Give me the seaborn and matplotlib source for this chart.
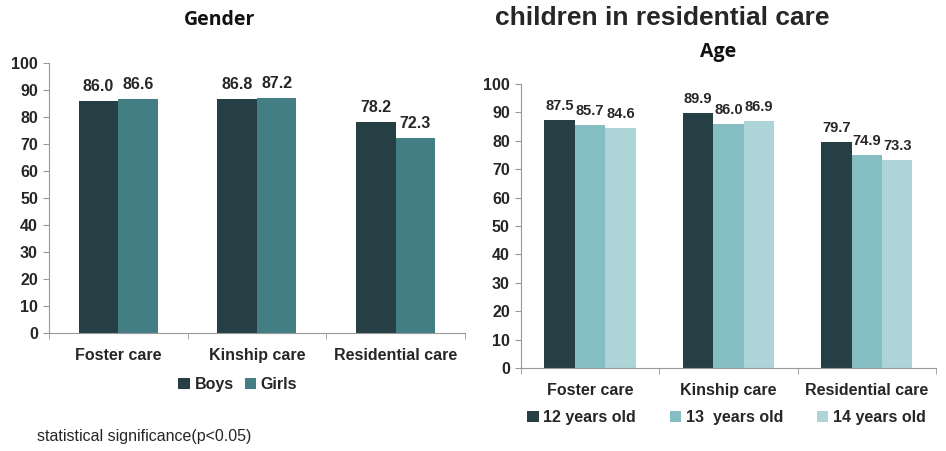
import matplotlib.pyplot as plt
import seaborn as sns
import pandas as pd

care = ['Foster care', 'Kinship care', 'Residential care']
gender_groups = ['Boys', 'Girls']
boys = [86.0, 86.8, 78.2]
girls = [86.6, 87.2, 72.3]
age_groups = ['12 years old', '13  years old', '14 years old']
age12 = [87.5, 89.9, 79.7]
age13 = [85.7, 86.0, 74.9]
age14 = [84.6, 86.9, 73.3]

gender_colors = ['#253f44', '#427e83']
age_colors = ['#253f44', '#84bec2', '#add4d7']

sns.set_style('white')
plt.rcParams['font.family'] = ['Liberation Sans', 'DejaVu Sans']

df_g = pd.DataFrame({'care': care * 2, 'group': [g for g in gender_groups for _ in care],
                     'value': boys + girls})
df_a = pd.DataFrame({'care': care * 3, 'group': [g for g in age_groups for _ in care],
                     'value': age12 + age13 + age14})

fig = plt.figure(figsize=(9.46, 4.51), dpi=100)
ax1 = fig.add_axes([0.0518, 0.2616, 0.4397, 0.5987])
ax2 = fig.add_axes([0.5507, 0.184, 0.4387, 0.6297])


def draw(ax, df, colors, width, label_size, legend_x, legend_y, colspace):
    sns.barplot(data=df, x='care', y='value', hue='group', palette=colors, width=width,
                ax=ax, saturation=1, edgecolor='none')
    for c in ax.containers:
        ax.bar_label(c, fmt='%.1f', padding=5, fontsize=label_size, fontweight='bold')
    ax.set_ylim(0, 100)
    ax.set_xlim(-0.5, 2.5)
    ax.set_yticks(range(0, 101, 10))
    ax.set_xticks([-0.5, 0.5, 1.5, 2.5], minor=True)
    ax.tick_params(axis='x', which='major', length=0, pad=11)
    ax.tick_params(axis='x', which='minor', length=4, color='#999999', direction='out', bottom=True)
    ax.tick_params(axis='y', length=4, color='#999999', direction='out', left=True, pad=4)
    for lab in ax.get_xticklabels() + ax.get_yticklabels():
        lab.set_fontweight('bold')
        lab.set_fontsize(11.5)
    ax.set_xlabel('')
    ax.set_ylabel('')
    sns.despine(ax=ax)
    for s in ['left', 'bottom']:
        ax.spines[s].set_color('#999999')
    ax.legend(loc='center', bbox_to_anchor=(legend_x, legend_y), ncol=len(colors), frameon=False,
              handlelength=0.7, handleheight=0.7, handletextpad=0.3, columnspacing=colspace,
              prop={'weight': 'bold', 'size': 11.5})


draw(ax1, df_g, gender_colors, 0.57, 11.5, 0.454, -0.19, 0.7)
draw(ax2, df_a, age_colors, 0.66, 10.5, 0.495, -0.175, 2.1)

fig.text(220 / 946, 1 - 20 / 451, 'Gender', family=['Open Sans', 'DejaVu Sans'],
         fontweight='bold', fontsize=14, ha='center', va='center', color='#111111')
fig.text(718 / 946, 1 - 52 / 451, 'Age', family=['Open Sans', 'DejaVu Sans'],
         fontweight='bold', fontsize=14, ha='center', va='center', color='#111111')
fig.text(662 / 946, 1 - 18 / 451, 'children in residential care', ha='center', va='center',
         fontsize=19, fontweight='bold')
fig.text(37 / 946, 1 - 437 / 451, 'statistical significance(p<0.05)', fontsize=11.5,
         va='center')

fig.savefig('out.png', dpi=100)
